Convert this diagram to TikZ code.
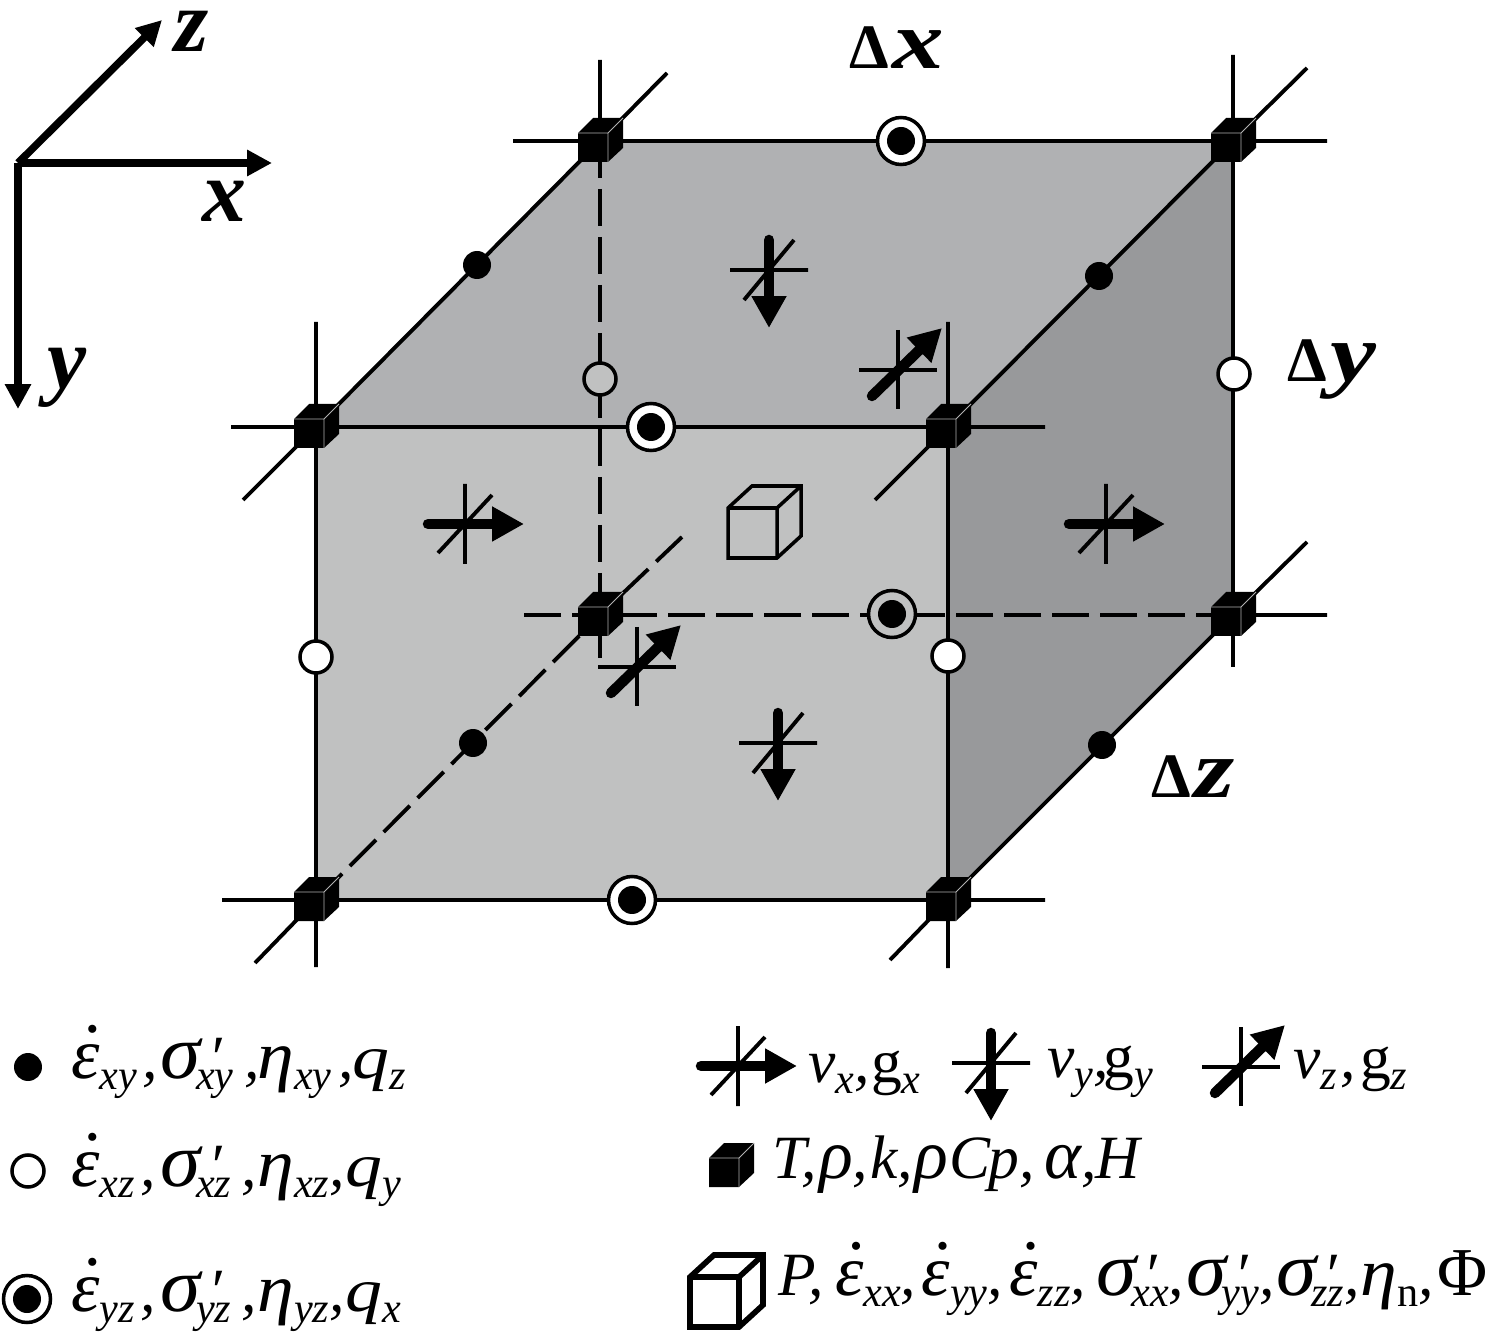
\documentclass[tikz,border=0pt]{standalone}
\usepackage{fontspec}
\setmainfont{Liberation Serif}
\usetikzlibrary{arrows.meta}

\definecolor{frontgray}{HTML}{C0C1C1}
\definecolor{topgray}{HTML}{B0B1B3}
\definecolor{sidegray}{HTML}{98999B}

% pieces of the legend text
\newcommand{\lpiece}[2]{\makebox[#1pt][l]{#2}}
\newcommand{\lsub}[1]{\raisebox{-6.5pt}{\fontsize{24}{24}\selectfont #1}}
\newcommand{\epsdot}[1]{\makebox[0pt][l]{\kern8.4pt\raisebox{21.5pt}{\scalebox{.55}{\textbullet}}}{\fontsize{41}{41}\selectfont ε}\lsub{#1}}
\newcommand{\sigprime}[1]{\lpiece{20}{\scalebox{1.32}[1.25]{σ}}\makebox[0pt][l]{\kern7pt ′}\lsub{#1}}
\newcommand{\etasub}[1]{\scalebox{1.2}[1.1]{η}\lsub{#1}}
\newcommand{\qsub}[1]{\scalebox{1.2}[1]{q}\lsub{#1}}
\newcommand{\sizemark}[1]{{\upshape\fontsize{36}{36}\selectfont Δ}\kern2pt\scalebox{1.25}[1]{#1}}

\tikzset{
    x=0.02cm, y=-0.02cm,
    edgeline/.style={line width=2.2pt},
    hiddenline/.style={line width=2.2pt, dash pattern=on .74cm off .22cm},
    axisline/.style={line width=.15cm, -{Triangle[length=.5cm,width=.5cm]}},
    flowline/.style={line width=.21cm, line cap=round, -{Triangle[length=.64cm,width=.66cm]}},
    soliddot/.style={circle, fill=black, inner sep=0pt, minimum size=.56cm},
    opendot/.style={circle, draw=black, line width=2pt, fill=white, inner sep=0pt, minimum size=.64cm},
    ringmark/.style={circle, draw=black, line width=2pt, fill=white, inner sep=0pt, minimum size=.94cm},
    ringcore/.style={circle, fill=black, inner sep=0pt, minimum size=.56cm},
    axislabel/.style={font=\fontsize{50}{50}\selectfont\bfseries\itshape, inner sep=0pt},
    sizelabel/.style={font=\fontsize{47}{47}\selectfont\bfseries\itshape, inner sep=0pt, anchor=base},
    legendtext/.style={font=\fontsize{35}{35}\selectfont\itshape, inner sep=0pt, anchor=base west},
    gridcube/.pic={
        \fill[black] (-22,-8) -- (-7,-23) -- (23,-23) -- (23,7) -- (8,21) -- (-22,21) -- cycle;
        \draw[white!70!black, line width=.5pt] (-22,-8) -- (8,-8) -- (8,21) (8,-8) -- (23,-23);
    },
    opencube/.pic={
        \draw[line join=miter] (0,0) -- (0,-50) -- (24,-72) -- (73,-72) -- (73,-22) -- (49,0) -- cycle
            (0,-50) -- (49,-50) -- (49,0) (49,-50) -- (73,-72);
    },
    vxmark/.pic={
        \draw[edgeline] (0,-40) -- (0,40) (-27,29) -- (27,-29);
        \draw[flowline] (-37,0) -- (59,0);
    },
    vymark/.pic={
        \draw[edgeline] (-39,0) -- (39,0) (-25,30) -- (25,-30);
        \draw[flowline] (0,-30) -- (0,58);
    },
    vzmark/.pic={
        \draw[edgeline] (-39,0) -- (39,0) (0,-40) -- (0,39);
        \draw[flowline] (-26,26) -- (44,-42);
    },
}

\begin{document}
\begin{tikzpicture}
    \useasboundingbox (0,0) rectangle (1488,1334);

    % corners of the cell
    \coordinate (ftl) at (316,427);
    \coordinate (ftr) at (948,427);
    \coordinate (fbr) at (948,900);
    \coordinate (fbl) at (316,900);
    \coordinate (btl) at (600,141);
    \coordinate (btr) at (1233,141);
    \coordinate (bbr) at (1233,615);
    \coordinate (bbl) at (600,615);

    % faces
    \fill[frontgray] (ftl) -- (ftr) -- (fbr) -- (fbl) -- cycle;
    \fill[topgray] (ftl) -- (btl) -- (btr) -- (ftr) -- cycle;
    \fill[sidegray] (ftr) -- (btr) -- (bbr) -- (fbr) -- cycle;

    % hidden edges
    \draw[hiddenline] (btl) -- (bbl) -- +(0,50);
    \draw[hiddenline] (bbr) -- (bbl) -- +(-77,0);
    \draw[hiddenline] (fbl) -- (bbl) -- +(82,-78);

    % visible edges
    \draw[edgeline] (ftl) -- (ftr) -- (fbr) -- (fbl) -- cycle;
    \draw[edgeline] (ftl) -- (btl) -- (btr) -- (ftr);
    \draw[edgeline] (btr) -- (bbr) -- (fbr);

    % ends that run past the corners
    \draw[edgeline] (btl) -- +(-87,0) (btl) -- +(0,-81) (btl) -- +(67,-68);
    \draw[edgeline] (btr) -- +(94,0) (btr) -- +(0,-86) (btr) -- +(74,-73);
    \draw[edgeline] (ftl) -- +(-85,0) (ftl) -- +(0,-105) (ftl) -- +(-73,73);
    \draw[edgeline] (ftr) -- +(97,0) (ftr) -- +(0,-105) (ftr) -- +(-73,73);
    \draw[edgeline] (bbr) -- +(94,0) (bbr) -- +(0,52) (bbr) -- +(74,-73);
    \draw[edgeline] (fbl) -- +(-94,0) (fbl) -- +(0,67) (fbl) -- +(-61,63);
    \draw[edgeline] (fbr) -- +(97,0) (fbr) -- +(0,68) (fbr) -- +(-58,60);

    % grid cubes
    \pic at (btl) {gridcube};
    \pic at (btr) {gridcube};
    \pic at (ftl) {gridcube};
    \pic at (ftr) {gridcube};
    \pic at (fbr) {gridcube};
    \pic at (fbl) {gridcube};
    \pic at (bbr) {gridcube};
    \pic at (bbl) {gridcube};

    % centre cube
    \pic[line width=2pt] at (728,558) {opencube};

    % velocity marks
    \pic at (465,524) {vxmark};
    \pic at (1106,524) {vxmark};
    \pic at (769,270) {vymark};
    \pic at (778,743) {vymark};
    \pic at (898,370) {vzmark};
    \pic at (637,667) {vzmark};

    % points on the edges
    \node[soliddot] (dota) at (477,265) {};
    \node[soliddot] (dotb) at (1099,276) {};
    \node[soliddot] (dotc) at (473,743) {};
    \node[soliddot] (dotd) at (1102,745) {};
    \node[opendot, fill=frontgray] (opena) at (600,379) {};
    \node[opendot] (openb) at (1234,374) {};
    \node[opendot] (openc) at (316,657) {};
    \node[opendot] (opend) at (948,656) {};
    \node[ringmark] (ringa) at (901,141) {};
    \node[ringcore] (ringacore) at (ringa) {};
    \node[ringmark] (ringb) at (651,427) {};
    \node[ringcore] (ringbcore) at (ringb) {};
    \node[ringmark, fill=frontgray] (ringc) at (892,614) {};
    \node[ringcore] (ringccore) at (ringc) {};
    \node[ringmark] (ringd) at (632,900) {};
    \node[ringcore] (ringdcore) at (ringd) {};

    % axes
    \coordinate (origin) at (18,163);
    \coordinate (xend) at (272,163);
    \coordinate (yend) at (18,409);
    \coordinate (zend) at (162,20);
    \draw[axisline] (origin) -- (xend);
    \draw[axisline] (origin) -- (yend);
    \draw[axisline] (origin) -- (zend);
    \node[axislabel] (xlabel) at (224,201) {x};
    \node[axislabel] (ylabel) at (67,378) {y};
    \node[axislabel] (zlabel) at (192,31) {z};

    % cell sizes
    \node[sizelabel] (dxlabel) at (897,69) {\sizemark{x}};
    \node[sizelabel] (dylabel) at (1332,382) {\sizemark{y}};
    \node[sizelabel] (dzlabel) at (1193,797) {\sizemark{z}};

    % legend, left
    \node[soliddot] (keydot) at (28,1067) {};
    \node[opendot] (keyopen) at (28,1171) {};
    \node[ringmark] (keyring) at (27,1299) {};
    \node[ringcore] (keyringcore) at (keyring) {};
    \node[legendtext] (textdot) at (71,1078) {\lpiece{51}{\epsdot{xy}\kern3pt,}\lpiece{55}{\sigprime{xy}\kern6pt,}\lpiece{54}{\etasub{xy}\kern4pt,}\qsub{z}};
    \node[legendtext] (textopen) at (71,1186) {\lpiece{51}{\epsdot{xz}\kern3pt,}\lpiece{55}{\sigprime{xz}\kern6pt,}\lpiece{50}{\etasub{xz},}\qsub{y}};
    \node[legendtext] (textring) at (71,1311) {\lpiece{51}{\epsdot{yz}\kern3pt,}\lpiece{55}{\sigprime{yz}\kern6pt,}\lpiece{50}{\etasub{yz},}\qsub{x}};

    % legend, right
    \pic at (738,1066) {vxmark};
    \pic at (991,1063) {vymark};
    \pic at (1241,1067) {vzmark};
    \pic at (731,1166) {gridcube};
    \pic[line width=3.2pt] at (690,1327) {opencube};
    \node[legendtext] (textvx) at (808,1082) {\lpiece{35.7}{v\lsub{x},}{\upshape g}\lsub{x}};
    \node[legendtext] (textvy) at (1047,1077) {\lpiece{32}{v\lsub{y},}{\upshape g}\lsub{y}};
    \node[legendtext] (textvz) at (1293,1078) {\lpiece{38}{v\lsub{z}\kern2pt,}{\upshape g}\lsub{z}};
    \node[legendtext] (textcell) at (772,1178) {\lpiece{26.6}{T,}\lpiece{29}{{\fontsize{40}{40}\selectfont ρ},}\lpiece{25.5}{k,}\lpiece{20}{{\fontsize{40}{40}\selectfont ρ}}\lpiece{22}{C}\lpiece{32}{p,}\lpiece{29}{{\fontsize{40}{40}\selectfont α},}H};
    \node[legendtext] (textcentre) at (778,1295) {\lpiece{32.3}{P,}\lpiece{49.3}{\epsdot{xx},}\lpiece{50}{\epsdot{yy},}\lpiece{49.3}{\epsdot{zz},}\lpiece{51.6}{\sigprime{xx},}\lpiece{51}{\sigprime{yy},}\lpiece{48}{\sigprime{zz},}\lpiece{43.6}{\etasub{\upshape n},}{\upshape\fontsize{39}{39}\selectfont Φ}};
\end{tikzpicture}
\end{document}
